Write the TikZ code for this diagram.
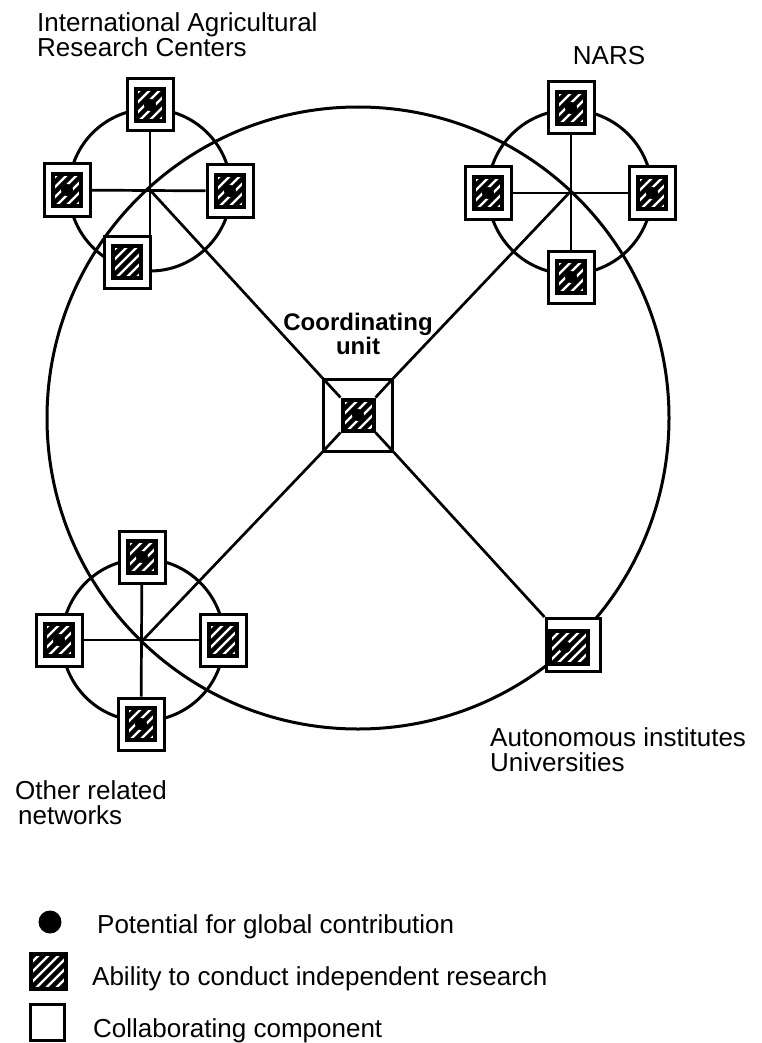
\documentclass[tikz,border=0pt]{standalone}
\usepackage{fontspec}
\setmainfont{Liberation Sans}
\usetikzlibrary{backgrounds}

\tikzset{
  collab/.style={draw,line width=3pt,fill=white,minimum width=46pt,minimum height=52pt,inner sep=0pt},
  research/.style={draw,line width=4pt,fill=white,minimum width=28pt,minimum height=32pt,inner sep=0pt,
    path picture={\foreach \k in {-5,...,5}
      \draw[line width=4.4pt] ([xshift=\k*10pt]path picture bounding box.center) ++(-30pt,-30pt) -- ++(60pt,60pt);}},
  globaldot/.style={circle,fill=black,minimum size=12pt,inner sep=0pt},
  comp/.style={collab,label={[research]center:}},
  compdot/.style={collab,label={[research]center:},label={[globaldot]center:}},
  ring/.style={line width=3pt},
  spoke/.style={line width=2.7pt},
  lbl/.style={font=\fontsize{26}{25}\selectfont,align=left,inner sep=0pt}
}

\begin{document}
\begin{tikzpicture}[x=1pt,y=-1pt]
\useasboundingbox (0,0) rectangle (761,1043);

\coordinate (mid) at (358,418);
\coordinate (iarc) at (150,190);
\coordinate (nars) at (570,192);
\coordinate (other) at (143,640);

\node[compdot] (iarcTop) at (150,105) {};
\node[compdot] (iarcLeft) at (67,190) {};
\node[compdot] (iarcRight) at (230,191) {};
\node[comp] (iarcBottom) at (127,262) {};

\node[compdot] (narsTop) at (571,108) {};
\node[compdot] (narsLeft) at (488,193) {};
\node[compdot] (narsRight) at (652,193) {};
\node[compdot] (narsBottom) at (571,277) {};

\node[compdot] (otherTop) at (142,557) {};
\node[compdot] (otherLeft) at (59,640) {};
\node[comp] (otherRight) at (223,640) {};
\node[compdot] (otherBottom) at (141,724) {};

\node[draw,line width=3pt,minimum width=69pt,minimum height=72pt,inner sep=0pt] (coord) at (358,415) {};
\node[research,minimum size=31pt] (coordIn) at (coord.center) {};
\node[globaldot] (coordDot) at (coord.center) {};
\draw[spoke] (coord.north west) -- (coordIn.north west);
\draw[spoke] (coord.north east) -- (coordIn.north east);
\draw[spoke] (coord.south west) -- (coordIn.south west);
\draw[spoke] (coord.south east) -- (coordIn.south east);

\node[collab,minimum width=54pt,minimum height=53pt] (auto) at (573,645) {};
\node[research,minimum width=38pt,minimum height=33pt] (autoIn) at (569,647) {};
\node[globaldot] (autoDot) at (565,647) {};

\begin{pgfonlayer}{background}
\draw[ring] (mid) circle[radius=311pt];
\draw[ring] (iarc) circle[radius=81pt];
\draw[ring] (nars) circle[radius=82pt];
\draw[ring] (other) circle[radius=81pt];
\draw[spoke] (coord.north west) -- (iarc);
\draw[spoke] (coord.north east) -- (nars);
\draw[spoke] (coord.south west) -- (other);
\draw[spoke] (coord.south east) -- (auto.north west);
\draw[spoke] (iarcLeft) -- (iarcRight);
\draw[spoke] (iarcTop) -- (iarc |- iarcBottom.north);
\draw[spoke] (narsLeft) -- (narsRight);
\draw[spoke] (narsTop) -- (narsBottom);
\draw[spoke] (otherLeft) -- (otherRight);
\draw[spoke] (otherTop) -- (otherBottom);
\end{pgfonlayer}

\node[lbl,anchor=north west] (iarcLabel) at (37,12) {International Agricultural\\Research Centers};
\node[lbl] (narsLabel) at (609,56) {NARS};
\node[lbl,anchor=north west] (autoLabel) at (490,727) {Autonomous institutes\\Universities};
\node[lbl,anchor=north west] (otherLabel) at (15,780) {Other related\\\hspace{3pt}networks};
\node[font=\fontsize{24}{24}\selectfont\bfseries,align=center,inner sep=0pt] (coordLabel) at (358,334) {Coordinating\\unit};

\node[globaldot,minimum size=23pt] (keyDot) at (50,922) {};
\node[lbl,anchor=base west] (keyDotText) at (97,933) {Potential for global contribution};
\node[research,minimum width=35pt,minimum height=35pt] (keyHatch) at (48,971) {};
\node[lbl,anchor=base west] (keyHatchText) at (92,985) {Ability to conduct independent research};
\node[collab,minimum width=34pt,minimum height=36pt] (keyBox) at (47,1022) {};
\node[lbl,anchor=base west] (keyBoxText) at (93,1037) {Collaborating component};
\end{tikzpicture}
\end{document}
